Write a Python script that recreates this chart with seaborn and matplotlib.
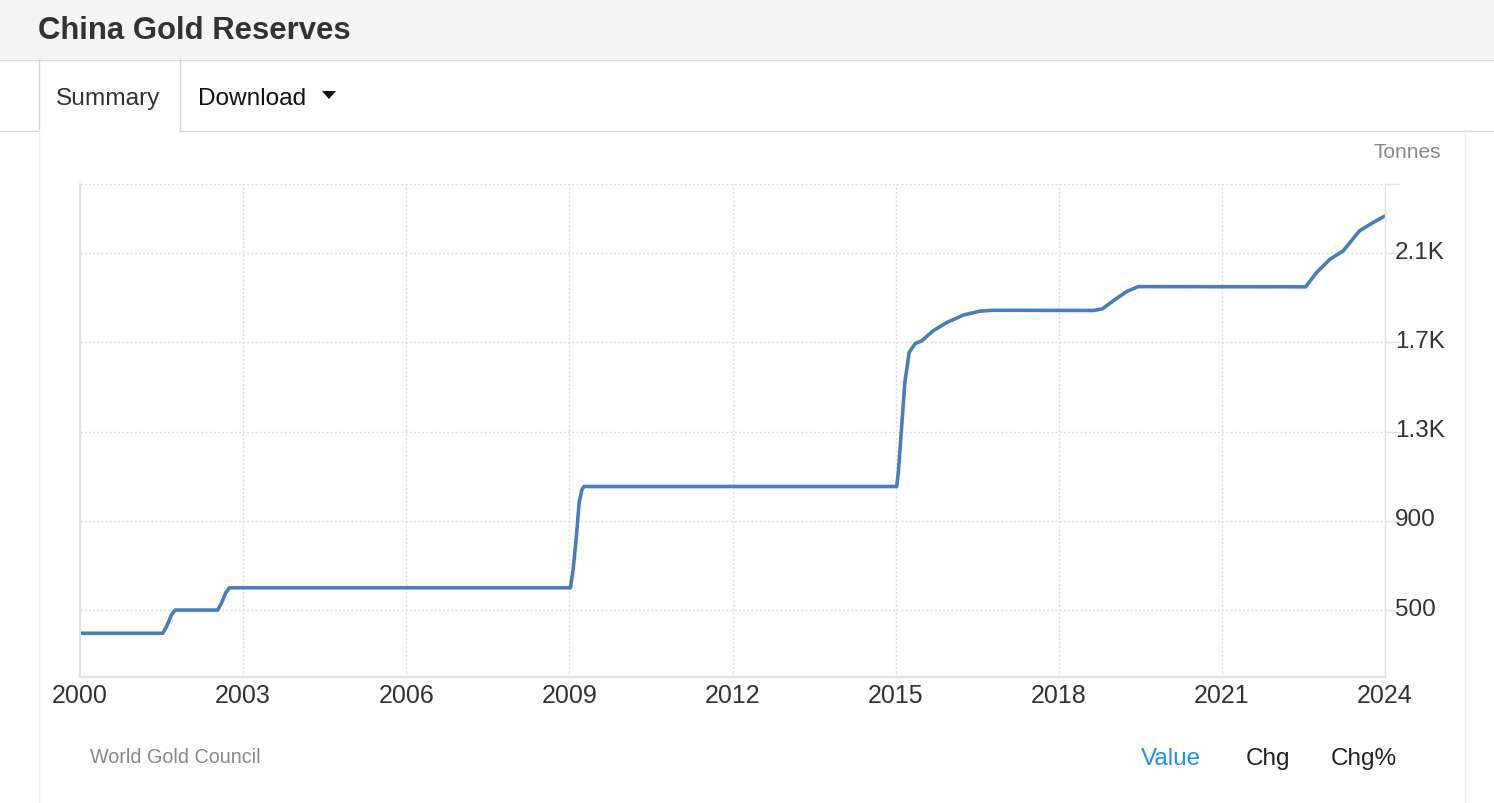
import matplotlib
matplotlib.use("Agg")
import matplotlib.pyplot as plt
import seaborn as sns
from matplotlib.patches import Rectangle, Polygon
from matplotlib.transforms import ScaledTranslation

# China gold reserves, tonnes
years = [2000.0, 2001.52, 2001.59, 2001.68, 2001.75,
         2002.53, 2002.60, 2002.68, 2002.75,
         2009.02, 2009.07, 2009.13, 2009.18, 2009.23, 2009.27,
         2015.02, 2015.05, 2015.08, 2015.17, 2015.25, 2015.36, 2015.48,
         2015.69, 2015.94, 2016.24, 2016.55, 2016.79,
         2018.64, 2018.80, 2019.00, 2019.25, 2019.46,
         2022.54, 2022.74, 2022.99, 2023.23, 2023.38, 2023.53, 2023.78, 2024.0]
reserves = [396, 396, 425, 478, 500,
            500, 530, 578, 600,
            600, 684, 833, 983, 1039, 1054,
            1054, 1117, 1221, 1521, 1655, 1695, 1707,
            1752, 1789, 1822, 1840, 1844,
            1843, 1850, 1886, 1928, 1950,
            1949, 2013, 2073, 2110, 2155, 2200, 2237, 2267]

x_ticks = [2000, 2003, 2006, 2009, 2012, 2015, 2018, 2021, 2024]
y_ticks = [500, 900, 1300, 1700, 2100, 2410]
y_labels = ["500", "900", "1.3K", "1.7K", "2.1K", ""]

sns.set_style("white")
plt.rcParams["font.family"] = ["Liberation Sans", "DejaVu Sans"]

W, H = 1494, 804
fig = plt.figure(figsize=(W / 100, H / 100), dpi=100)
fig.patch.set_facecolor("white")

# page frame in pixel coordinates
bg = fig.add_axes([0, 0, 1, 1])
bg.set_xlim(0, W)
bg.set_ylim(H, 0)
bg.axis("off")
bg.add_patch(Rectangle((0, 0), W, 60, color="#f4f4f4", lw=0))
bg.plot([0, W], [60.5, 60.5], color="#d6d6d6", lw=1)
bg.plot([0, 38], [131.5, 131.5], color="#d6d6d6", lw=1)
bg.plot([179, W], [131.5, 131.5], color="#d6d6d6", lw=1)
bg.plot([38.5, 38.5], [60, 131], color="#d6d6d6", lw=1)
bg.plot([179.5, 179.5], [60, 131], color="#d6d6d6", lw=1)
bg.plot([38.5, 38.5], [131, H], color="#eeeeee", lw=1)
bg.plot([1464.5, 1464.5], [131, H], color="#eeeeee", lw=1)
bg.text(38, 31, "China Gold Reserves", fontsize=22.4, fontweight="bold",
        color="#333333", va="center", ha="left")
bg.text(56, 99, "Summary", fontsize=17.6, color="#333333", va="center", ha="left")
bg.text(198, 99, "Download", fontsize=17.6, color="#111111", va="center", ha="left")
bg.add_patch(Polygon([[322, 92], [336, 92], [329, 100]], closed=True, color="#111111", lw=0))
bg.text(1441, 153, "Tonnes", fontsize=15, color="#888888", va="center", ha="right")
bg.text(90, 758, "World Gold Council", fontsize=14.2, color="#888888", va="center", ha="left")
bg.text(1141, 759, "Value", fontsize=17.5, color="#1e90ff", va="center", ha="left")
bg.text(1246, 759, "Chg", fontsize=17.5, color="#222222", va="center", ha="left")
bg.text(1331, 759, "Chg%", fontsize=17.5, color="#222222", va="center", ha="left")

# chart area
ax = fig.add_axes([80 / W, (H - 678) / H, 1305 / W, (678 - 185) / H])
ax.set_facecolor("none")
sns.lineplot(x=years, y=reserves, ax=ax, color="#4a7ebb", linewidth=2.6)
ax.set_xlim(2000, 2024)
ax.set_ylim(200, 2410)
ax.set_xticks(x_ticks)
ax.set_xticklabels([str(t) for t in x_ticks])
ax.yaxis.tick_right()
ax.set_yticks(y_ticks)
ax.set_yticklabels(y_labels)
ax.grid(True, color="#dddddd", linestyle=(0, (1.5, 1.5)), linewidth=1)
ax.set_axisbelow(True)
for side in ["left", "bottom", "right"]:
    ax.spines[side].set_visible(True)
    ax.spines[side].set_color("#e3e3e3")
ax.spines["bottom"].set_linewidth(1.6)
ax.spines["left"].set_linewidth(1.4)
ax.spines["right"].set_linewidth(1.0)
ax.spines["top"].set_visible(False)
ax.tick_params(axis="x", length=0, pad=4, labelsize=18, labelcolor="#333333")
ax.tick_params(axis="y", length=10.8, width=1, color="#e3e3e3", pad=-3.5,
               labelsize=17.5, labelcolor="#333333")
ax.set_xlabel("")
ax.set_ylabel("")

# right labels sit a little above their grid lines
shift = ScaledTranslation(0, 4 / 100, fig.dpi_scale_trans)
for lbl in ax.get_yticklabels(which="both"):
    lbl.set_transform(lbl.get_transform() + shift)

fig.savefig("out.png", dpi=100)
